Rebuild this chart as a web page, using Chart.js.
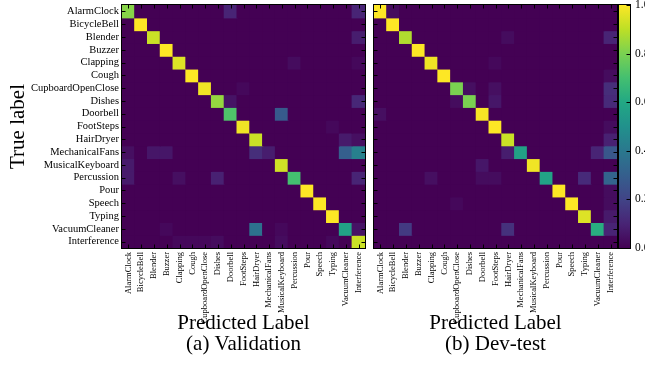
<!DOCTYPE html>
<html><head><meta charset="utf-8">
<script src="https://cdn.jsdelivr.net/npm/chart.js@4.4.0/dist/chart.umd.min.js"></script>
<style>
html,body{margin:0;padding:0;background:#fff;overflow:hidden;width:645px;height:383px;position:relative;}
.c{position:absolute;top:0;}
canvas{display:block;}
</style></head><body>
<div class="c" style="left:0;"><canvas id="cv" width="370" height="383"></canvas></div>
<div class="c" style="left:370px;"><canvas id="ct" width="250" height="383"></canvas></div>
<div class="c" style="left:615px;"><canvas id="cb" width="60" height="383"></canvas></div>
<script>
const predictedLabels = ['AlarmClock','BicycleBell','Blender','Buzzer','Clapping','Cough','CupboardOpenClose','Dishes','Doorbell','FootSteps','HairDryer','MechanicalFans','MusicalKeyboard','Percussion','Pour','Speech','Typing','VacuumCleaner','Interference'];
const trueLabels = predictedLabels.slice();

// Validation confusion matrix (rows = true, cols = predicted)
const validation = [
 [0.82,0,0,0,0,0,0,0,0.10,0,0,0,0,0,0,0,0,0,0.10],
 [0,1.00,0,0,0,0,0,0,0,0,0,0,0,0,0,0,0,0,0],
 [0,0,0.92,0,0,0,0,0,0,0,0,0,0,0,0,0,0,0,0.08],
 [0,0,0,1.00,0,0,0,0,0,0,0,0,0,0,0,0,0,0,0],
 [0,0,0,0,0.95,0,0,0,0,0,0,0,0,0.03,0,0,0,0,0.02],
 [0,0,0,0,0,1.00,0,0,0,0,0,0,0,0,0,0,0,0,0],
 [0,0,0,0,0,0,0.98,0,0,0.02,0,0,0,0,0,0,0,0,0],
 [0,0,0,0,0,0,0,0.84,0.05,0,0,0,0,0,0,0,0,0,0.11],
 [0,0,0,0,0,0,0,0,0.72,0,0,0,0.28,0,0,0,0,0,0],
 [0,0,0,0,0,0,0,0,0,0.98,0,0,0,0,0,0,0.02,0,0],
 [0,0,0,0,0,0,0,0,0,0,0.92,0,0,0,0,0,0,0.07,0.04],
 [0.04,0,0.06,0.06,0,0,0,0,0,0,0.13,0.08,0,0,0,0,0,0.30,0.43],
 [0.07,0,0,0,0,0,0,0,0,0,0,0,0.93,0,0,0,0,0,0],
 [0.07,0,0,0,0.04,0,0,0.09,0,0,0,0,0,0.70,0,0,0,0,0.10],
 [0,0,0,0,0,0,0,0,0,0,0,0,0,0,1.00,0,0,0,0],
 [0,0,0,0,0,0,0,0,0,0,0,0,0,0,0,1.00,0,0,0],
 [0,0,0,0,0,0,0,0,0,0,0,0,0,0,0,0,1.00,0,0],
 [0,0,0,0.02,0,0,0,0,0,0,0.37,0,0.02,0,0,0,0,0.57,0.05],
 [0,0,0,0,0.02,0.02,0.02,0.03,0,0,0,0,0.03,0,0,0,0.02,0,0.92]
];

// Dev-test confusion matrix
const devTest = [
 [1.00,0.03,0,0,0,0,0,0,0,0,0,0,0,0,0,0,0,0,0],
 [0,1.00,0,0,0,0,0,0,0,0,0,0,0,0,0,0,0,0,0],
 [0,0,0.88,0,0,0,0,0,0,0,0.03,0,0,0,0,0,0,0,0.10],
 [0,0,0,1.00,0,0,0,0,0,0,0,0,0,0,0,0,0,0,0],
 [0,0,0,0,0.98,0,0,0,0,0.02,0,0,0,0,0,0,0,0,0],
 [0,0,0,0,0,1.00,0,0,0,0,0,0,0,0,0,0,0,0,0.03],
 [0,0,0,0,0,0,0.80,0.04,0,0.04,0,0,0,0,0,0,0,0,0.13],
 [0,0,0,0,0,0,0.03,0.80,0,0.06,0,0,0,0,0,0,0,0,0.12],
 [0.04,0,0,0,0,0,0,0,0.99,0,0,0,0,0,0,0,0,0,0],
 [0,0,0,0,0,0,0,0,0,1.00,0,0,0,0,0,0,0,0,0.03],
 [0,0,0,0,0,0,0,0,0,0,0.92,0,0,0,0,0,0,0,0.09],
 [0,0,0,0,0,0,0,0,0,0,0.08,0.57,0,0,0,0,0,0.10,0.27],
 [0,0,0,0,0,0,0,0,0.06,0,0,0,0.98,0,0,0,0,0,0],
 [0,0,0,0,0.04,0,0,0,0.03,0.03,0,0,0,0.58,0,0,0.12,0,0.32],
 [0,0,0,0,0,0,0,0,0,0,0,0,0,0,1.00,0,0,0,0.03],
 [0,0,0,0,0,0,0.02,0,0,0,0,0,0,0,0,1.00,0,0,0.03],
 [0,0,0,0,0,0,0,0,0,0,0,0,0,0,0,0,0.95,0,0.07],
 [0,0,0.17,0,0,0,0,0,0,0,0.14,0,0,0,0,0,0,0.62,0.10],
 [0,0,0,0,0,0,0,0,0,0,0,0,0,0,0,0,0,0,0]
];

const colorbarTicks = [0, 0.2, 0.4, 0.6, 0.8, 1.0];

const SERIF = '"Liberation Serif","Times New Roman",serif';
const VIR = ['#440154','#482475','#414487','#355f8d','#2a788e','#21918c','#22a884','#44bf70','#7ad151','#bddf26','#fde725'];
function hex(h){return [parseInt(h.slice(1,3),16),parseInt(h.slice(3,5),16),parseInt(h.slice(5,7),16)];}
const VIRRGB = VIR.map(hex);
function viridis(v){
  v = Math.max(0, Math.min(1, v));
  const p = v * 10, i = Math.min(9, Math.floor(p)), f = p - i;
  const a = VIRRGB[i], b = VIRRGB[i+1];
  return 'rgb(' + a.map((c,k)=>Math.round(c + (b[k]-c)*f)).join(',') + ')';
}

const framePlugin = {
  id: 'frame',
  afterDatasetsDraw(chart, args, opts) {
    const {ctx, chartArea: a} = chart;
    ctx.save();
    ctx.strokeStyle = '#000';
    ctx.lineWidth = 1;
    ctx.strokeRect(a.left - 0.5, a.top - 0.5, a.right - a.left + 1, a.bottom - a.top + 1);
    const L = 3.5;
    ctx.beginPath();
    if (opts.matrix) {
      const xs = chart.scales.x, ys = chart.scales.y;
      predictedLabels.forEach((_, j) => {
        const x = Math.round(xs.getPixelForValue(j)) + 0.5;
        ctx.moveTo(x, a.top); ctx.lineTo(x, a.top + L);
        ctx.moveTo(x, a.bottom); ctx.lineTo(x, a.bottom - L);
      });
      trueLabels.forEach((_, i) => {
        const y = Math.round(ys.getPixelForValue(i + 0.5)) + 0.5;
        ctx.moveTo(a.left, y); ctx.lineTo(a.left + L, y);
        ctx.moveTo(a.right, y); ctx.lineTo(a.right - L, y);
      });
    } else {
      const ys = chart.scales.y;
      colorbarTicks.forEach(t => {
        const y = Math.round(ys.getPixelForValue(t)) + 0.5;
        ctx.moveTo(a.right, y); ctx.lineTo(a.right - L, y);
      });
    }
    ctx.stroke();
    ctx.restore();
  }
};

function matrixDatasets(mat) {
  return mat.map((row, i) => ({
    data: row.map((v, j) => ({x: predictedLabels[j], y: [i, i + 1], v})),
    backgroundColor: ctx => viridis(ctx.raw ? ctx.raw.v : 0),
    borderWidth: 0,
    inflateAmount: 0.6,
    barPercentage: 1,
    categoryPercentage: 1,
    grouped: false
  }));
}

function matrixChart(id, mat, subtitle, showY, padding) {
  return new Chart(document.getElementById(id), {
    type: 'bar',
    data: {labels: predictedLabels, datasets: matrixDatasets(mat)},
    plugins: [framePlugin],
    options: {
      responsive: false, animation: false, devicePixelRatio: 1,
      layout: {padding},
      plugins: {legend: {display: false}, tooltip: {enabled: false}, frame: {matrix: true}},
      scales: {
        x: {
          type: 'category', offset: true,
          grid: {display: false, drawTicks: false}, border: {display: false},
          ticks: {autoSkip: false, maxRotation: 90, minRotation: 90, padding: 4, color: '#000',
                  font: {family: SERIF, size: 8.5}},
          afterFit: s => { s.height = 135; s.paddingLeft = 0; s.paddingRight = 0; },
          title: {display: true, text: ['Predicted Label', subtitle], color: '#000',
                  font: {family: SERIF, size: 21, lineHeight: 1.0}, padding: {top: 0, bottom: 28}}
        },
        y: {
          type: 'linear', min: 0, max: 19, reverse: true, display: showY,
          afterBuildTicks: s => { s.ticks = trueLabels.map((_, i) => ({value: i + 0.5})); },
          grid: {display: false, drawTicks: false}, border: {display: false},
          ticks: {autoSkip: false, padding: 3, color: '#000', font: {family: SERIF, size: 10.5},
                  callback: (v, i) => trueLabels[i]},
          afterFit: s => { s.width = showY ? 122 : 0; s.paddingTop = 0; s.paddingBottom = 0; },
          title: {display: showY, text: 'True label', color: '#000',
                  font: {family: SERIF, size: 21, lineHeight: 1.0}, padding: {top: 8, bottom: 0}}
        }
      }
    }
  });
}

matrixChart('cv', validation, '(a) Validation', true, {left: 0, right: 5, top: 5, bottom: 0});
matrixChart('ct', devTest, '(b) Dev-test', false, {left: 4, right: 3, top: 5, bottom: 0});

new Chart(document.getElementById('cb'), {
  type: 'bar',
  data: {labels: [''], datasets: [{
    data: [[0, 1]],
    backgroundColor: ctx => {
      const a = ctx.chart.chartArea;
      if (!a) return VIR[0];
      const g = ctx.chart.ctx.createLinearGradient(0, a.bottom, 0, a.top);
      VIR.forEach((c, k) => g.addColorStop(k / 10, c));
      return g;
    },
    borderWidth: 0, barPercentage: 1, categoryPercentage: 1
  }]},
  plugins: [framePlugin],
  options: {
    responsive: false, animation: false, devicePixelRatio: 1,
    layout: {padding: {left: 4, right: 0, top: 5, bottom: 135}},
    plugins: {legend: {display: false}, tooltip: {enabled: false}, frame: {matrix: false}},
    scales: {
      x: {display: false},
      y: {
        position: 'right', min: 0, max: 1,
        afterBuildTicks: s => { s.ticks = colorbarTicks.map(v => ({value: v})); },
        grid: {display: false, drawTicks: false}, border: {display: false},
        ticks: {padding: 5, color: '#000', font: {family: SERIF, size: 11.5}, callback: v => v.toFixed(1)},
        afterFit: s => { s.width = 45; s.paddingTop = 0; s.paddingBottom = 0; }
      }
    }
  }
});
</script>
</body></html>
